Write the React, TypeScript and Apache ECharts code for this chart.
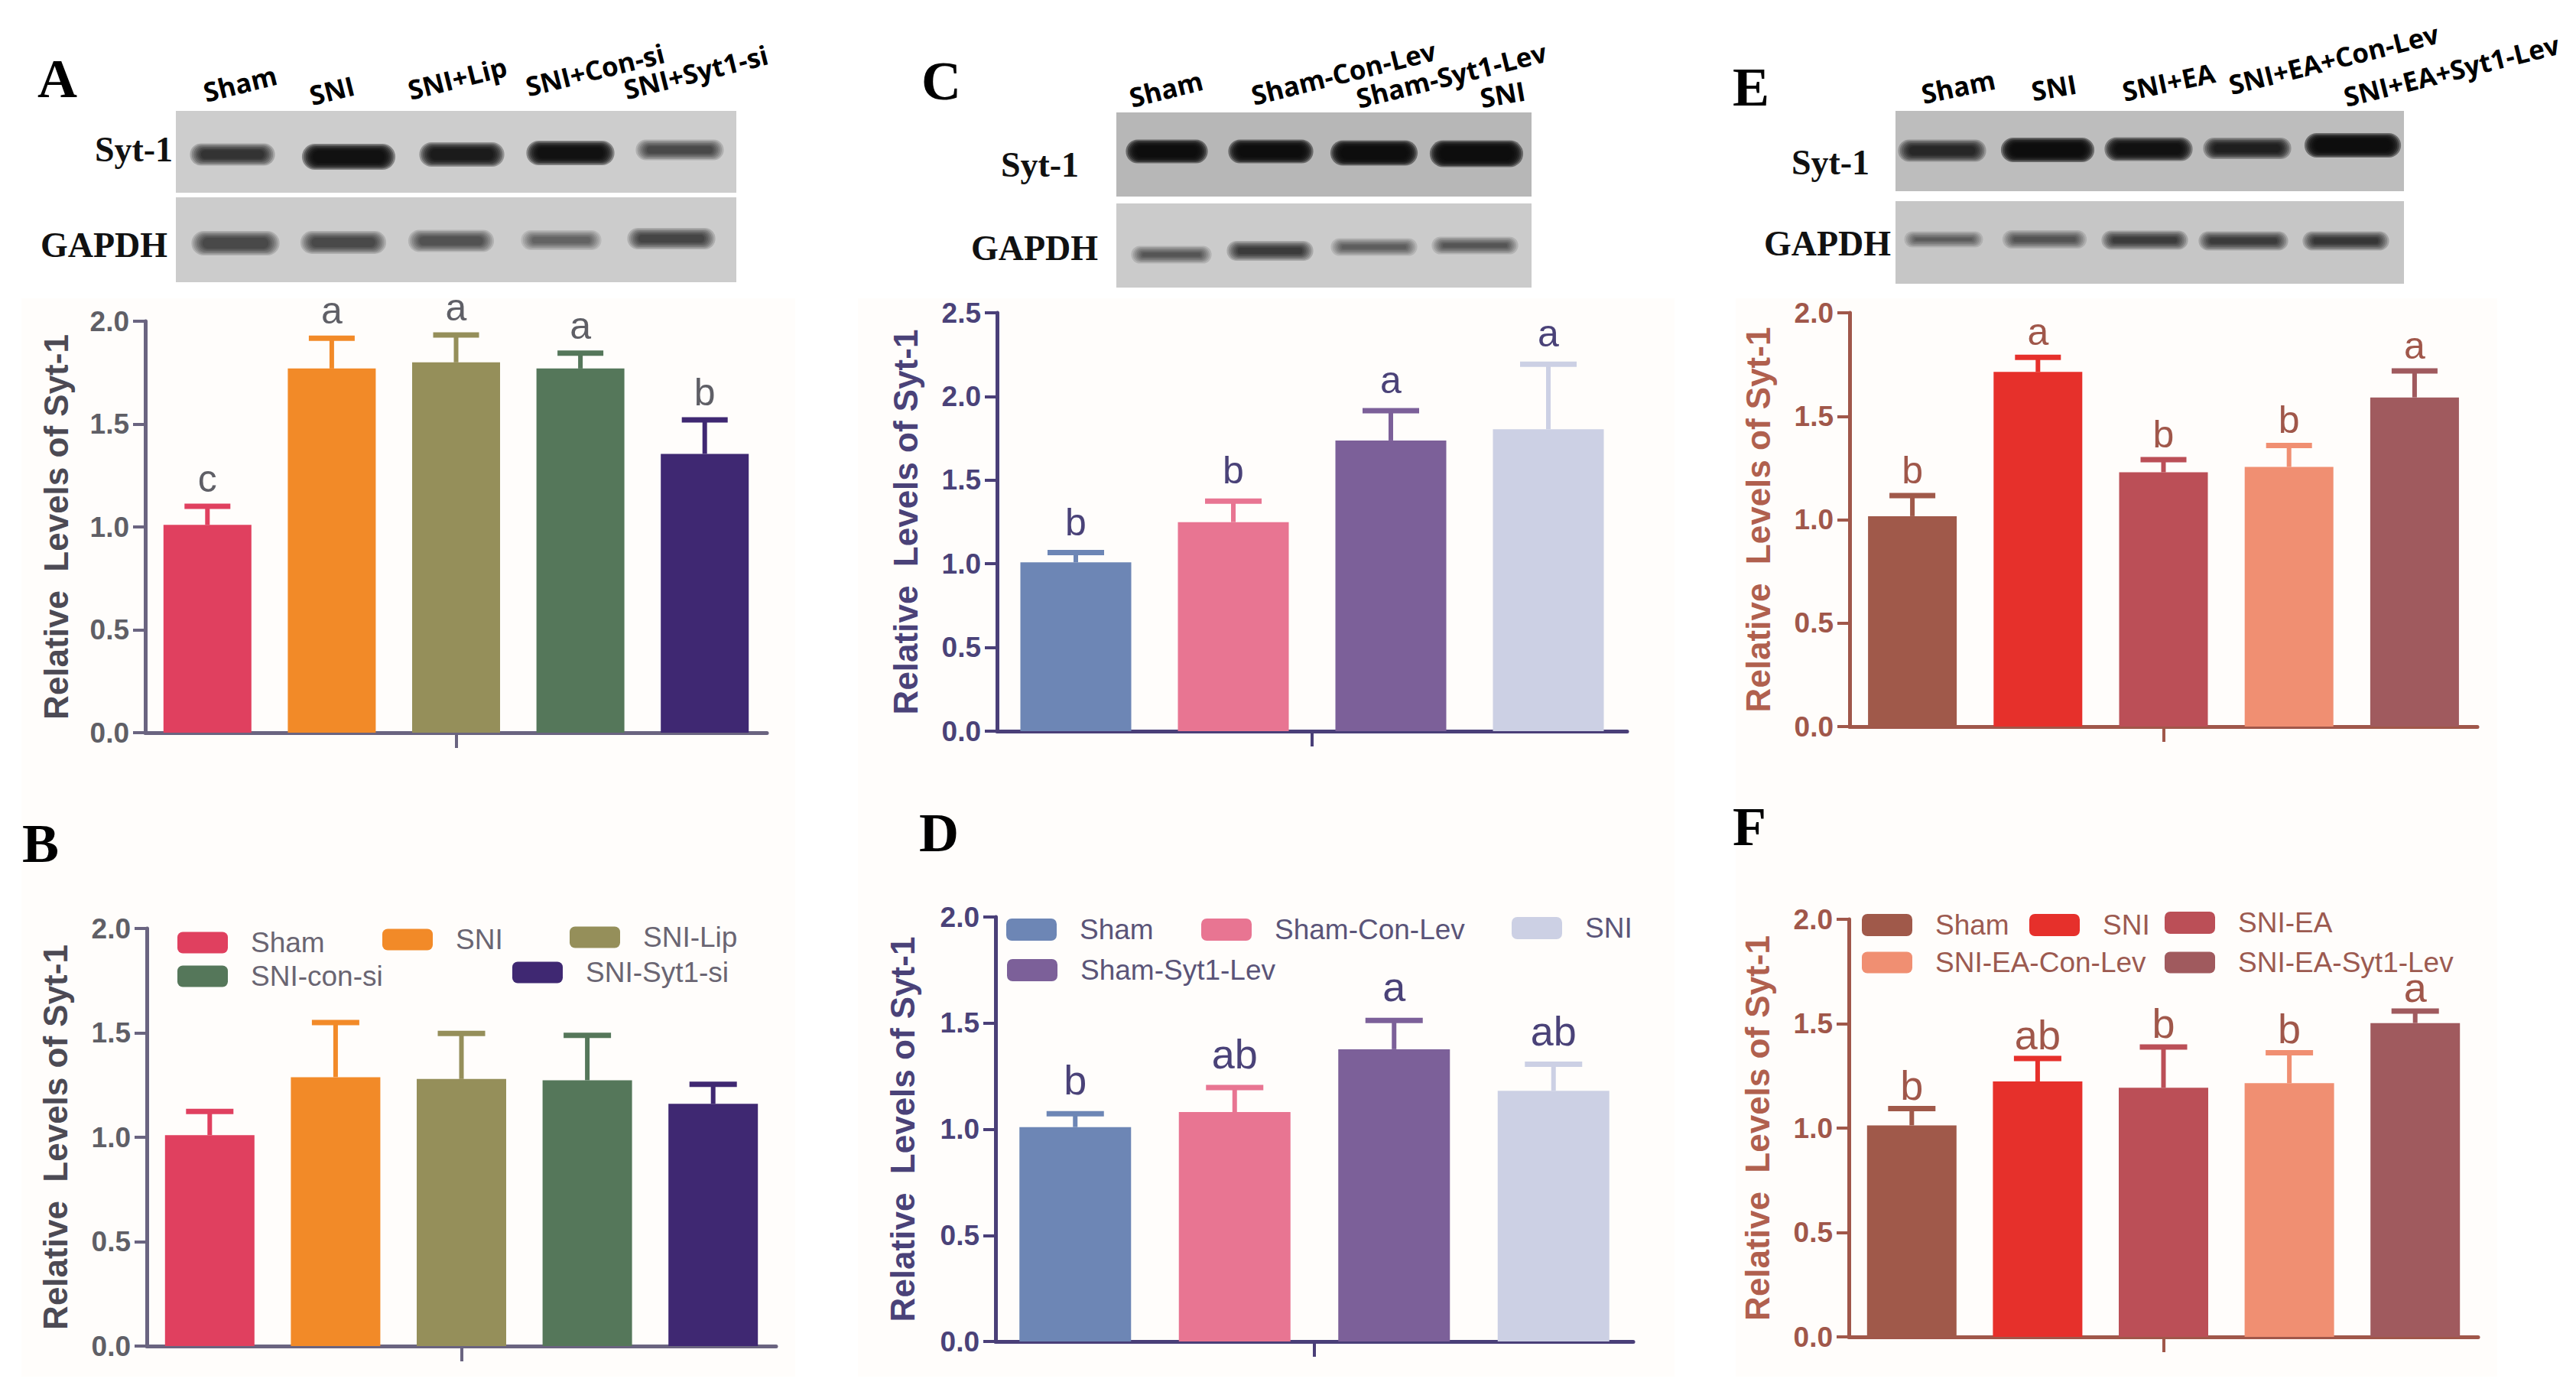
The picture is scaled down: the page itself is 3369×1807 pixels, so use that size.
import React, { useEffect, useRef } from "react";
import * as echarts from "echarts";

// ---------- data ----------
const groupsA = ["Sham", "SNI", "SNI+Lip", "SNI+Con-si", "SNI+Syt1-si"];
const valuesA = [1.01, 1.77, 1.8, 1.77, 1.355];
const errorsA = [1.1, 1.917, 1.933, 1.845, 1.52];
const lettersA = ["c", "a", "a", "a", "b"];

const groupsB = ["Sham", "SNI", "SNI-Lip", "SNI-con-si", "SNI-Syt1-si"];
const valuesB = [1.01, 1.288, 1.279, 1.273, 1.16];
const errorsB = [1.124, 1.549, 1.497, 1.488, 1.254];
const lettersB = ["", "", "", "", ""];

const groupsC = ["Sham", "Sham-Con-Lev", "Sham-Syt1-Lev", "SNI"];
const valuesC = [1.009, 1.249, 1.737, 1.804];
const errorsC = [1.067, 1.374, 1.915, 2.193];
const lettersC = ["b", "b", "a", "a"];

const groupsD = ["Sham", "Sham-Con-Lev", "Sham-Syt1-Lev", "SNI"];
const valuesD = [1.01, 1.081, 1.377, 1.181];
const errorsD = [1.073, 1.196, 1.513, 1.306];
const lettersD = ["b", "ab", "a", "ab"];

const groupsE = ["Sham", "SNI", "SNI+EA", "SNI+EA+Con-Lev", "SNI+EA+Syt1-Lev"];
const valuesE = [1.017, 1.714, 1.229, 1.255, 1.591];
const errorsE = [1.116, 1.785, 1.29, 1.359, 1.719];
const lettersE = ["b", "a", "b", "b", "a"];

const groupsF = ["Sham", "SNI", "SNI-EA", "SNI-EA-Con-Lev", "SNI-EA-Syt1-Lev"];
const valuesF = [1.013, 1.223, 1.193, 1.215, 1.503];
const errorsF = [1.093, 1.333, 1.388, 1.361, 1.56];
const lettersF = ["b", "ab", "b", "b", "a"];

const AXIS_TITLE = "Relative  Levels of Syt-1";

// ---------- styles / layout ----------
const redSet = ["#e0405f", "#f28a28", "#958f5a", "#55775a", "#3f2872"];
const blueSet = ["#6d86b5", "#e87592", "#7c6099", "#ccd0e4"];
const brownSet = ["#a0594a", "#e6302b", "#bb4f57", "#f08f72", "#a05a5e"];

const SANS = "'Liberation Sans', Arial, sans-serif";
const SERIF = "'Liberation Serif', 'Times New Roman', serif";
const LANE = "'Open Sans', sans-serif";

type Panel = {
  groups: string[]; values: number[]; errors: number[]; letters: string[]; colors: string[];
  left: number; width: number; y0: number; yTop: number; max: number;
  barWidth: number; capWidth: number; letterGap: number; letterSize: number;
  axisColor: string; labelColor: string; titleColor: string; titleGap: number;
  legend?: { name: string; x: number; y: number; gap: number; h: number }[]; legendColor?: string;
};

const panels: Panel[] = [
  { groups: groupsA, values: valuesA, errors: errorsA, letters: lettersA, colors: redSet,
    left: 190, width: 813, y0: 958, yTop: 420, max: 2, barWidth: 115, capWidth: 60, letterGap: 36, letterSize: 50,
    axisColor: "#6a6480", labelColor: "#5f5f66", titleColor: "#4c4a54", titleGap: 95 },
  { groups: groupsB, values: valuesB, errors: errorsB, letters: lettersB, colors: redSet,
    left: 192, width: 823, y0: 1760, yTop: 1214, max: 2, barWidth: 117, capWidth: 62, letterGap: 36, letterSize: 50,
    axisColor: "#6a6480", labelColor: "#5f5f66", titleColor: "#4c4a54", titleGap: 98,
    legendColor: "#6a6572",
    legend: [
      { name: "Sham", x: 232, y: 1214, gap: 30, h: 28 },
      { name: "SNI", x: 500, y: 1210, gap: 30, h: 28 },
      { name: "SNI-Lip", x: 745, y: 1207, gap: 30, h: 28 },
      { name: "SNI-con-si", x: 232, y: 1258, gap: 30, h: 28 },
      { name: "SNI-Syt1-si", x: 670, y: 1253, gap: 30, h: 28 },
    ] },
  { groups: groupsC, values: valuesC, errors: errorsC, letters: lettersC, colors: blueSet,
    left: 1304, width: 824, y0: 956, yTop: 409, max: 2.5, barWidth: 145, capWidth: 74, letterGap: 40, letterSize: 50,
    axisColor: "#4a3f78", labelColor: "#4a4278", titleColor: "#4a4278", titleGap: 98 },
  { groups: groupsD, values: valuesD, errors: errorsD, letters: lettersD, colors: blueSet,
    left: 1302, width: 834, y0: 1754, yTop: 1199, max: 2, barWidth: 146, capWidth: 75, letterGap: 44, letterSize: 54,
    axisColor: "#4a3f78", labelColor: "#4a4278", titleColor: "#4a4278", titleGap: 100,
    legendColor: "#5a5478",
    legend: [
      { name: "Sham", x: 1316, y: 1197, gap: 30, h: 29 },
      { name: "Sham-Con-Lev", x: 1571, y: 1197, gap: 30, h: 29 },
      { name: "SNI", x: 1977, y: 1195, gap: 30, h: 29 },
      { name: "Sham-Syt1-Lev", x: 1317, y: 1250, gap: 30, h: 29 },
    ] },
  { groups: groupsE, values: valuesE, errors: errorsE, letters: lettersE, colors: brownSet,
    left: 2419, width: 821, y0: 950, yTop: 409, max: 2, barWidth: 116, capWidth: 60, letterGap: 33, letterSize: 50,
    axisColor: "#a0574a", labelColor: "#a0574a", titleColor: "#b0604e", titleGap: 98 },
  { groups: groupsF, values: valuesF, errors: errorsF, letters: lettersF, colors: brownSet,
    left: 2418, width: 823, y0: 1748, yTop: 1202, max: 2, barWidth: 117, capWidth: 62, letterGap: 31, letterSize: 54,
    axisColor: "#a0574a", labelColor: "#a0574a", titleColor: "#b0604e", titleGap: 98,
    legendColor: "#9c5a50",
    legend: [
      { name: "Sham", x: 2435, y: 1191, gap: 30, h: 29 },
      { name: "SNI", x: 2654, y: 1191, gap: 30, h: 29 },
      { name: "SNI-EA", x: 2831, y: 1188, gap: 30, h: 29 },
      { name: "SNI-EA-Con-Lev", x: 2435, y: 1240, gap: 30, h: 28 },
      { name: "SNI-EA-Syt1-Lev", x: 2831, y: 1240, gap: 30, h: 28 },
    ] },
];

// western-blot panels: [centre x, centre y, width, height, darkness]
type Band = [number, number, number, number, number];
const blots: { x: number; w: number; rows: { y: number; h: number; bg: string; bands: Band[] }[] }[] = [
  { x: 230, w: 733, rows: [
    { y: 145, h: 107, bg: "#cdcdcd", bands: [
      [304, 202, 92, 17, 0.78], [456, 205, 103, 22, 0.96], [604, 202, 92, 20, 0.92], [746, 200, 96, 20, 0.96], [889, 196, 96, 15, 0.68]] },
    { y: 258, h: 111, bg: "#cccccc", bands: [
      [308, 318, 96, 20, 0.68], [449, 317, 93, 18, 0.68], [590, 315, 93, 17, 0.63], [734, 314, 86, 14, 0.53], [878, 312, 96, 16, 0.7]] },
  ] },
  { x: 1460, w: 543, rows: [
    { y: 147, h: 110, bg: "#b7b7b7", bands: [
      [1526, 198, 88, 19, 1], [1662, 198, 92, 19, 1], [1797, 200, 95, 21, 1], [1931, 201, 103, 23, 1]] },
    { y: 266, h: 110, bg: "#cbcbcb", bands: [
      [1532, 333, 86, 11, 0.6], [1661, 328, 94, 14, 0.74], [1797, 323, 94, 11, 0.56], [1929, 321, 94, 11, 0.6]] },
  ] },
  { x: 2479, w: 665, rows: [
    { y: 145, h: 105, bg: "#bdbdbd", bands: [
      [2540, 197, 96, 17, 0.84], [2678, 196, 103, 20, 1], [2810, 195, 96, 19, 0.96], [2939, 194, 96, 16, 0.88], [3077, 190, 107, 20, 1]] },
    { y: 263, h: 108, bg: "#c6c6c6", bands: [
      [2542, 313, 84, 9, 0.56], [2674, 313, 91, 12, 0.6], [2805, 314, 94, 13, 0.73], [2934, 315, 98, 13, 0.73], [3068, 315, 94, 13, 0.76]] },
  ] },
];

const panelTags: [string, number, number][] = [
  ["A", 75, 103], ["B", 53, 1103], ["C", 1231, 106], ["D", 1228, 1089], ["E", 2290, 114], ["F", 2288, 1081],
];
const blotNames: [string, number, number][] = [
  ["Syt-1", 175, 195], ["GAPDH", 136, 320], ["Syt-1", 1360, 215], ["GAPDH", 1353, 324], ["Syt-1", 2394, 212], ["GAPDH", 2390, 318],
];
const laneNames: [string, number, number, number][] = [
  ["Sham", 314, 109, 14], ["SNI", 434, 118, 14], ["SNI+Lip", 598, 102, 14], ["SNI+Con-si", 778, 91, 14], ["SNI+Syt1-si", 910, 94, 14],
  ["Sham", 1525, 116, 14], ["Sham-Con-Lev", 1757, 95, 14], ["Sham-Syt1-Lev", 1898, 98, 14], ["SNI", 1965, 123, 10],
  ["Sham", 2561, 113, 12], ["SNI", 2686, 114, 10], ["SNI+EA", 2836, 107, 12], ["SNI+EA+Con-Lev", 3052, 77, 14], ["SNI+EA+Syt1-Lev", 3206, 92, 14],
];
const paperRects: [number, number, number, number][] = [
  [28, 390, 1012, 1410], [1122, 390, 1068, 1410], [2270, 390, 996, 1410],
];
const BLUR_LAYERS = 7;
const BLUR_SPREAD = 18;

function buildOption() {
  const graphic: any[] = [];
  paperRects.forEach(([x, y, width, height]) =>
    graphic.push({ type: "rect", shape: { x, y, width, height }, style: { fill: "#fffdfb" }, silent: true }));
  blots.forEach((b) => b.rows.forEach((r) => {
    graphic.push({ type: "rect", shape: { x: b.x, y: r.y, width: b.w, height: r.h }, style: { fill: r.bg }, silent: true });
    r.bands.forEach(([cx, cy, w, h, d]) => {
      // soft band: nested rounded rects, faint outside, building up to the core
      const alpha = 1 - Math.pow(1 - Math.min(d, 0.985), 1 / BLUR_LAYERS);
      for (let n = 0; n < BLUR_LAYERS; n++) {
        const grow = BLUR_SPREAD * (1 - n / (BLUR_LAYERS - 1)) - 6;
        const rw = w + grow * 1.6, rh = Math.max(h + grow, 3);
        graphic.push({ type: "rect", silent: true,
          shape: { x: cx - rw / 2, y: cy - rh / 2, width: rw, height: rh, r: rh / 2 },
          style: { fill: `rgba(12,12,12,${alpha})` } });
      }
    });
  }));
  panelTags.forEach(([text, x, y]) => graphic.push({ type: "text", x, y, silent: true,
    style: { text, fill: "#000", font: `bold 72px ${SERIF}`, align: "center", verticalAlign: "middle" } }));
  blotNames.forEach(([text, x, y]) => graphic.push({ type: "text", x, y, silent: true,
    style: { text, fill: "#111", font: `bold 46px ${SERIF}`, align: "center", verticalAlign: "middle" } }));
  laneNames.forEach(([text, x, y, deg]) => graphic.push({ type: "text", x, y, rotation: (deg * Math.PI) / 180, silent: true,
    style: { text, fill: "#000", font: `bold 35px ${LANE}`, align: "center", verticalAlign: "middle" } }));

  const grid: any[] = [], xAxis: any[] = [], yAxis: any[] = [], series: any[] = [], legend: any[] = [];
  panels.forEach((p, i) => {
    grid.push({ left: p.left, top: p.yTop, width: p.width, height: p.y0 - p.yTop, containLabel: false });
    xAxis.push({ type: "category", gridIndex: i, data: p.groups,
      axisLine: { lineStyle: { color: p.axisColor, width: 5 } }, axisTick: { show: false }, axisLabel: { show: false } });
    xAxis.push({ type: "value", gridIndex: i, min: 0, max: 1, position: "bottom", axisLine: { show: false },
      axisLabel: { show: false }, splitLine: { show: false },
      axisTick: { show: true, customValues: [0.5], length: 20, lineStyle: { color: p.axisColor, width: 4 } } });
    yAxis.push({ type: "value", gridIndex: i, min: 0, max: p.max, interval: 0.5,
      name: AXIS_TITLE, nameLocation: "middle", nameGap: p.titleGap, nameRotate: 90,
      nameTextStyle: { color: p.titleColor, fontFamily: SANS, fontWeight: "bold", fontSize: 44 },
      axisLine: { show: true, lineStyle: { color: p.axisColor, width: 5 } },
      axisTick: { show: true, length: 16, lineStyle: { color: p.axisColor, width: 4 } },
      splitLine: { show: false },
      axisLabel: { show: true, margin: 21, color: p.labelColor, fontFamily: SANS, fontWeight: "bold", fontSize: 37,
        formatter: (v: number) => v.toFixed(1) } });
    p.groups.forEach((g, j) => series.push({
      type: "bar", name: g, xAxisIndex: i * 2, yAxisIndex: i, stack: `p${i}`, barWidth: p.barWidth,
      silent: true, itemStyle: { color: p.colors[j] },
      data: p.values.map((v, k) => (k === j ? v : null)),
    }));
    series.push({
      type: "custom", name: `err${i}`, xAxisIndex: i * 2, yAxisIndex: i, silent: true, z: 5, clip: false,
      encode: { x: 0, y: [1, 2] },
      data: p.values.map((v, k) => [k, v, p.errors[k]]),
      renderItem: (params: any, api: any) => {
        const k = params.dataIndex;
        const a = api.coord([api.value(0), api.value(1)]);
        const b = api.coord([api.value(0), api.value(2)]);
        const color = p.colors[k];
        const children: any[] = [
          { type: "line", shape: { x1: a[0], y1: a[1], x2: b[0], y2: b[1] }, style: { stroke: color, lineWidth: 6 } },
          { type: "line", shape: { x1: b[0] - p.capWidth / 2, y1: b[1], x2: b[0] + p.capWidth / 2, y2: b[1] }, style: { stroke: color, lineWidth: 7 } },
        ];
        if (p.letters[k]) children.push({ type: "text", x: b[0], y: b[1] - p.letterGap,
          style: { text: p.letters[k], fill: p.labelColor, font: `${p.letterSize}px ${SANS}`, align: "center", verticalAlign: "middle" } });
        return { type: "group", children };
      },
    });
    (p.legend || []).forEach((l) => {
      const idx = p.groups.indexOf(l.name);
      legend.push({
        data: [{ name: l.name, icon: "roundRect", itemStyle: { color: p.colors[idx] } }],
        left: l.x, top: l.y, padding: 0, itemWidth: 66, itemHeight: l.h, selectedMode: false,
        textStyle: { color: p.legendColor, fontFamily: SANS, fontSize: 37, lineHeight: l.h, padding: [0, 0, 0, l.gap - 5] },
      });
    });
  });

  return { animation: false, backgroundColor: "#ffffff", grid, xAxis, yAxis, series, legend, graphic };
}

export default function App() {
  const ref = useRef<HTMLDivElement>(null);
  useEffect(() => {
    const chart = echarts.init(ref.current!, undefined, { renderer: "svg" });
    chart.setOption(buildOption());
    return () => chart.dispose();
  }, []);
  return <div ref={ref} style={{ position: "fixed", left: 0, top: 0, width: 3369, height: 1807 }} />;
}
